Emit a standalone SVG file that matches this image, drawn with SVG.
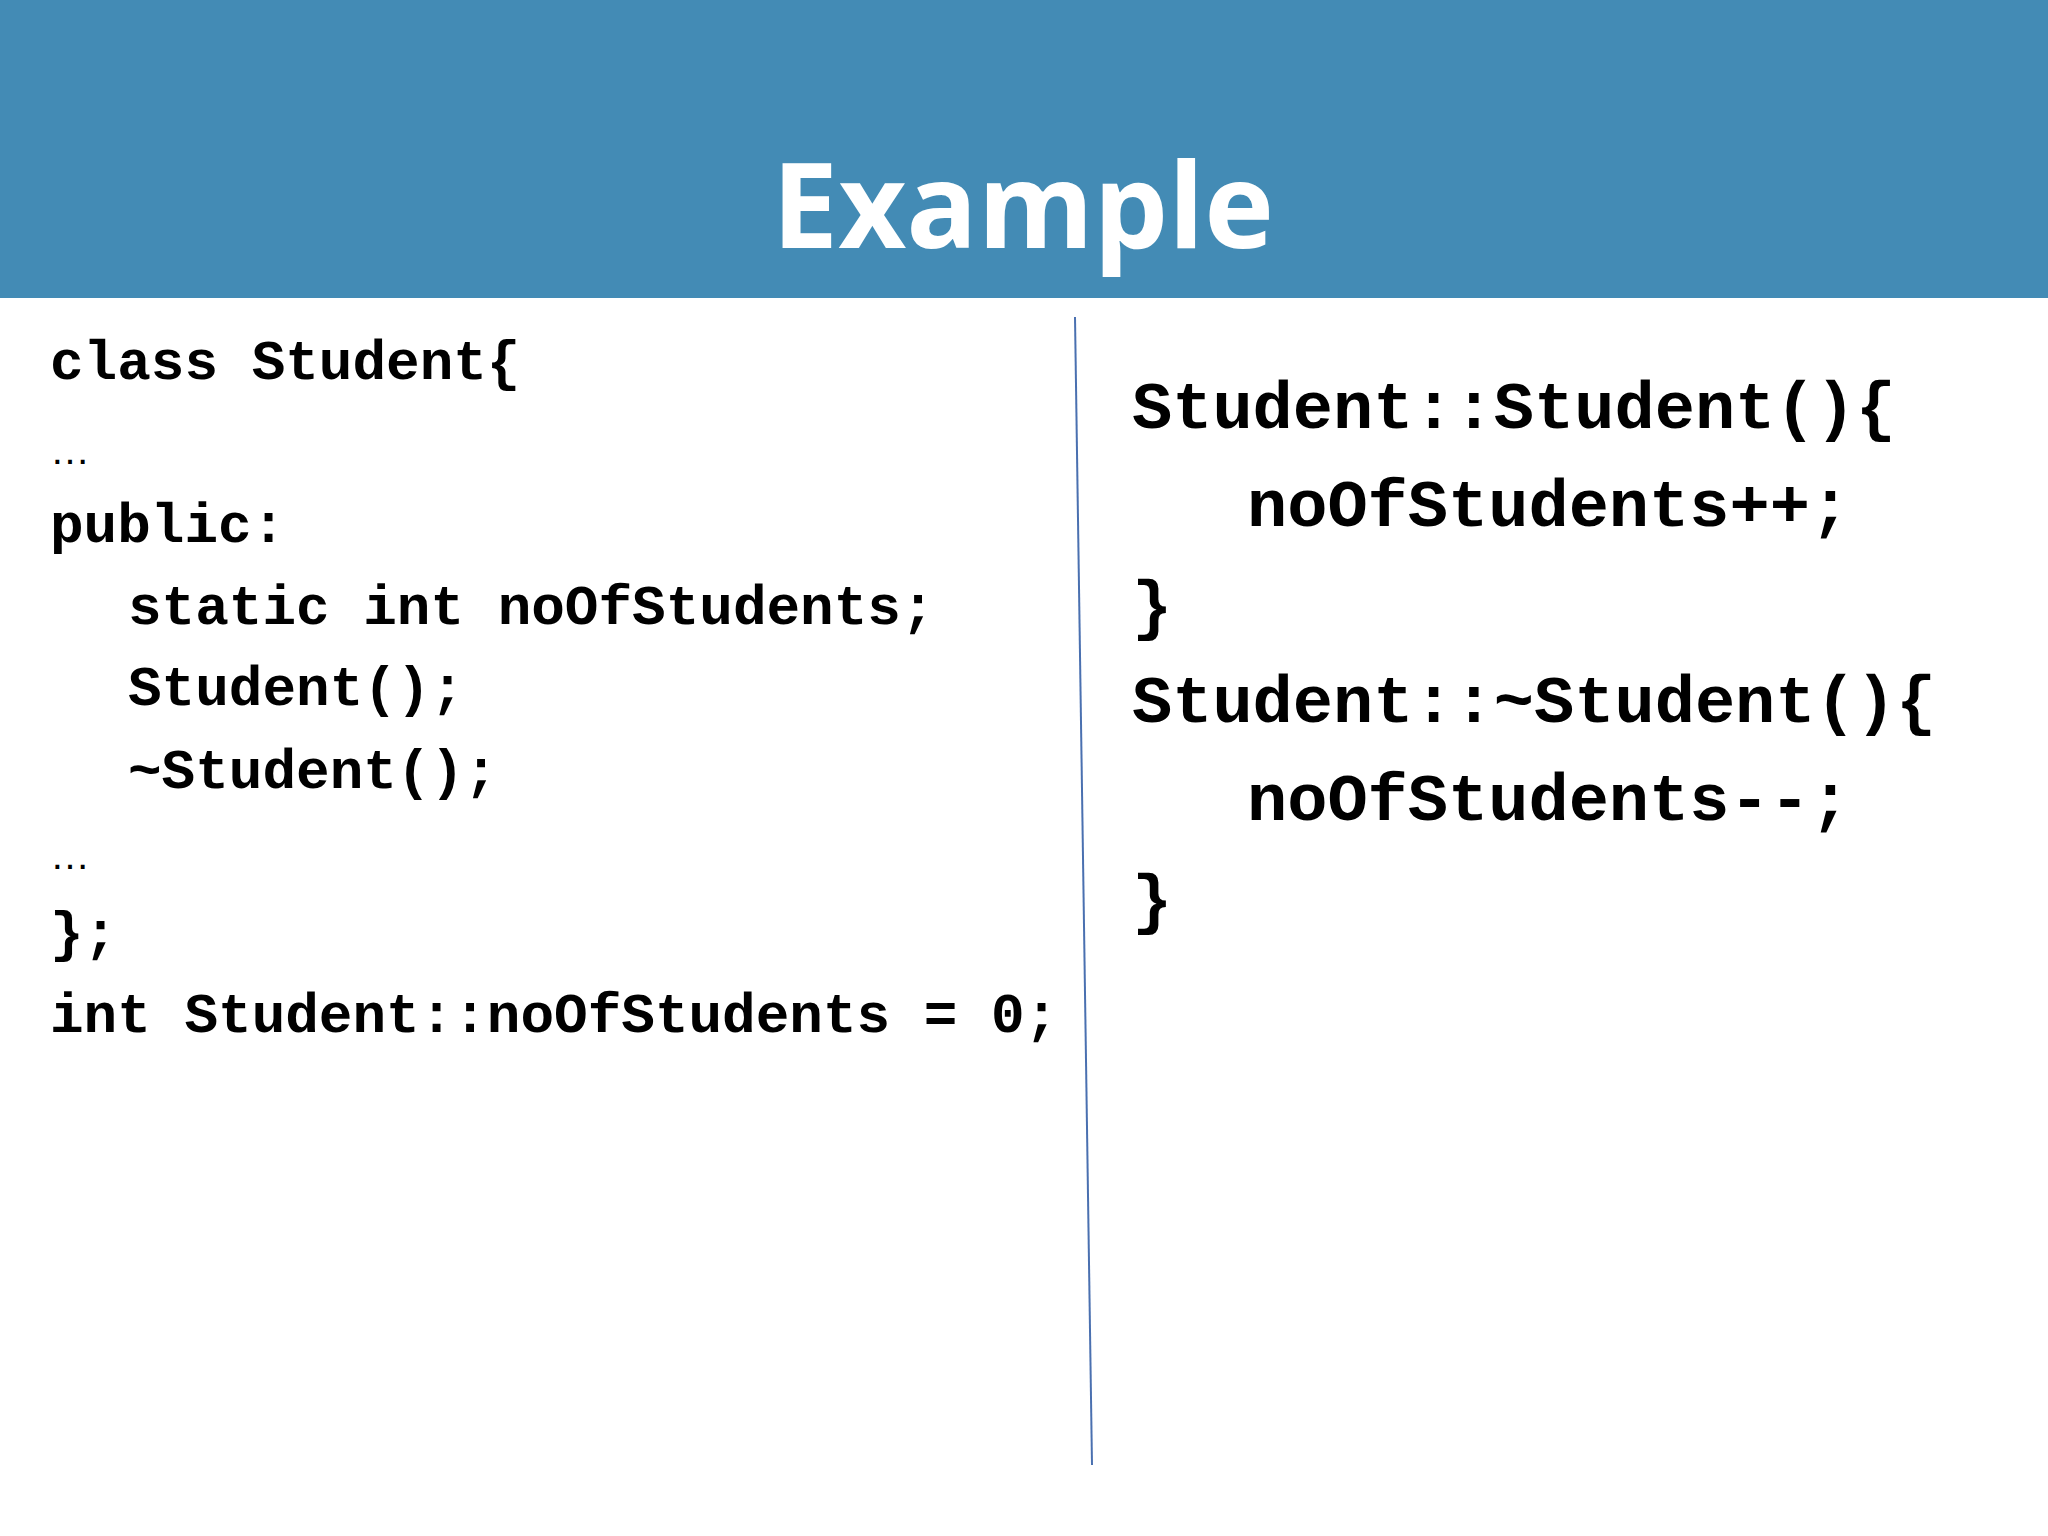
<svg xmlns="http://www.w3.org/2000/svg" width="2048" height="1536" viewBox="0 0 2048 1536">
<style>
.c{font-family:"Liberation Mono","Courier New",monospace;font-weight:bold;fill:#000}
.l{font-size:56px}
.r{font-size:67px}
.e{font-family:"Liberation Sans",Arial,sans-serif;font-size:40px;fill:#000}
</style>
<rect width="2048" height="1536" fill="#fff"/>
<g id="header">
<rect x="0" y="0" width="2048" height="298" fill="#438bb5"/>
<text x="1023" y="248" text-anchor="middle" font-family="Open Sans, sans-serif" font-weight="bold" font-size="118" fill="#fff">Example</text>
</g>
<g id="left">
<text class="c l" x="50" y="379" xml:space="preserve">class Student{</text>
<text class="e" x="50" y="464">…</text>
<text class="c l" x="50" y="542">public:</text>
<text class="c l" x="128" y="624">static int noOfStudents;</text>
<text class="c l" x="128" y="705">Student();</text>
<text class="c l" x="128" y="788">~Student();</text>
<text class="e" x="50" y="869">…</text>
<text class="c l" x="50" y="950">};</text>
<text class="c l" x="50" y="1032">int Student::noOfStudents = 0;</text>
</g>
<g id="divider">
<line x1="1075" y1="317" x2="1092" y2="1465" stroke="#4a70b0" stroke-width="2"/>
</g>
<g id="right">
<text class="c r" x="1132" y="428">Student::Student(){</text>
<text class="c r" x="1247" y="526">noOfStudents++;</text>
<text class="c r" x="1132" y="627">}</text>
<text class="c r" x="1132" y="722">Student::~Student(){</text>
<text class="c r" x="1247" y="820">noOfStudents--;</text>
<text class="c r" x="1132" y="921">}</text>
</g>
</svg>
